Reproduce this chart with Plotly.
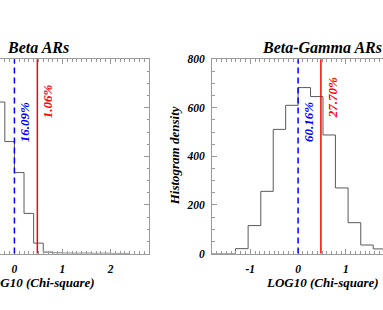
import math
import plotly.graph_objects as go

# ---------------- data ----------------
LEFT_EDGES = [-0.4, -0.2, 0.0, 0.2, 0.4, 0.6, 0.8, 1.0, 1.2, 1.4, 1.6, 1.8, 2.0, 2.2, 2.4]
LEFT_COUNTS = [1559, 1152, 833, 413, 107, 15, 6, 4, 3, 4, 2, 3, 1, 1]

RIGHT_EDGES = [-1.83, -1.31, -1.045, -0.78, -0.52, -0.26, 0.0, 0.26, 0.52, 0.78, 1.045, 1.31, 1.57, 1.83, 2.09]
RIGHT_COUNTS = [0, 20, 115, 256, 511, 610, 683, 646, 488, 270, 127, 35, 19, 8]

BLUE_LINE_X = 0.0               # log10(1)
RED_LINE_X = math.log10(3.0)    # log10(3)

LEFT_TITLE = "Beta ARs"
RIGHT_TITLE = "Beta-Gamma ARs"
LEFT_BLUE_LABEL = "16.09%"
LEFT_RED_LABEL = "1.06%"
RIGHT_BLUE_LABEL = "60.16%"
RIGHT_RED_LABEL = "27.70%"
X_TITLE = "LOG10 (Chi-square)"
Y_TITLE = "Histogram density"

X_TICK_VALS_LEFT = [0, 1, 2]
X_TICK_TEXT_LEFT = ["0", "1", "2"]
X_TICK_VALS_RIGHT = [-1, 0, 1]
X_TICK_TEXT_RIGHT = ["-1", "0", "1"]
Y_TICK_VALS_RIGHT = [0, 200, 400, 600, 800]

# ---------------- layout constants ----------------
W, H = 383, 310
FONT = "Liberation Serif"
AX_COL = "#9a9a9a"
HIST_COL = "#5a5a5a"
BLUE = "#0000ff"
RED = "#ff0000"

def px_x(p):
    return p / W

def px_y(p):
    return 1 - p / H

TOP, BOT = 55.3, 257.5
YDOM = [px_y(BOT), px_y(TOP)]


def step_xy(edges, counts):
    xs = [edges[0]] + list(edges)
    ys = [0] + list(counts) + [0]
    return xs, ys


fig = go.Figure()

lx, ly = step_xy(LEFT_EDGES, LEFT_COUNTS)
fig.add_trace(go.Scatter(x=lx, y=ly, mode="lines", line=dict(color=HIST_COL, width=1, shape="hv"),
                         xaxis="x", yaxis="y", showlegend=False, hoverinfo="skip"))
rx, ry = step_xy(RIGHT_EDGES, RIGHT_COUNTS)
fig.add_trace(go.Scatter(x=rx, y=ry, mode="lines", line=dict(color=HIST_COL, width=1, shape="hv"),
                         xaxis="x2", yaxis="y2", showlegend=False, hoverinfo="skip"))

tickfont = dict(family=FONT, size=11.5, color="black", weight="bold", style="italic")

common_x = dict(showline=True, linecolor=AX_COL, linewidth=1, mirror="ticks",
                ticks="inside", ticklen=5, tickcolor=AX_COL, tickwidth=1,
                tickfont=tickfont, showgrid=False, zeroline=False, tickmode="array",
                minor=dict(ticks="inside", ticklen=2.5, tickcolor=AX_COL, tick0=0, dtick=0.1, showgrid=False),
                ticklabelstandoff=5)

fig.update_layout(
    width=W, height=H, margin=dict(l=0, r=0, t=0, b=0),
    paper_bgcolor="white", plot_bgcolor="white",
    xaxis=dict(domain=[px_x(0), px_x(149)], range=[-0.3, 2.8], anchor="y",
               tickvals=X_TICK_VALS_LEFT, ticktext=X_TICK_TEXT_LEFT, **common_x),
    yaxis=dict(domain=YDOM, range=[0, 2000], side="right", anchor="x",
               showline=True, linecolor=AX_COL, linewidth=1, ticks="inside", ticklen=5,
               tickcolor=AX_COL, showticklabels=False, showgrid=False, zeroline=False,
               tick0=0, dtick=500,
               minor=dict(ticks="inside", ticklen=2.5, tickcolor=AX_COL, tick0=0, dtick=125, showgrid=False)),
    xaxis2=dict(domain=[px_x(212), 1.0], range=[-1.8, 1.775], anchor="y2",
                tickvals=X_TICK_VALS_RIGHT, ticktext=X_TICK_TEXT_RIGHT, **common_x),
    yaxis2=dict(domain=YDOM, range=[0, 800], side="left", anchor="x2",
                showline=True, linecolor=AX_COL, linewidth=1, ticks="inside", ticklen=5,
                tickcolor=AX_COL, tickfont=tickfont, showgrid=False, zeroline=False,
                tickmode="array", tickvals=Y_TICK_VALS_RIGHT, ticklabelstandoff=4,
                minor=dict(ticks="inside", ticklen=2.5, tickcolor=AX_COL, tick0=0, dtick=50, showgrid=False)),
)

# reference lines
for xa, ya in (("x", "y"), ("x2", "y2")):
    fig.add_shape(type="line", xref=xa, yref=f"{ya} domain",
                  x0=BLUE_LINE_X, x1=BLUE_LINE_X, y0=0, y1=1,
                  line=dict(color=BLUE, width=1.5, dash="6px,4px"))
    fig.add_shape(type="line", xref=xa, yref=f"{ya} domain",
                  x0=RED_LINE_X, x1=RED_LINE_X, y0=0, y1=1,
                  line=dict(color=RED, width=1.5))

pct_font = lambda c: dict(family=FONT, size=13, color=c, weight="bold", style="italic")
title_font = dict(family=FONT, size=16, color="black", weight="bold", style="italic")
axt_font = dict(family=FONT, size=13, color="black", weight="bold", style="italic")

def dom_y(p):
    return (BOT - p) / (BOT - TOP)

annos = [
    dict(text=LEFT_BLUE_LABEL, xref="x", yref="y domain", x=BLUE_LINE_X, y=dom_y(143.5),
         xshift=11, textangle=-90, xanchor="center", yanchor="bottom", showarrow=False, font=pct_font(BLUE)),
    dict(text=LEFT_RED_LABEL, xref="x", yref="y domain", x=RED_LINE_X, y=dom_y(118.5),
         xshift=11, textangle=-90, xanchor="center", yanchor="bottom", showarrow=False, font=pct_font(RED)),
    dict(text=RIGHT_BLUE_LABEL, xref="x2", yref="y2 domain", x=BLUE_LINE_X, y=dom_y(143.5),
         xshift=11, textangle=-90, xanchor="center", yanchor="bottom", showarrow=False, font=pct_font(BLUE)),
    dict(text=RIGHT_RED_LABEL, xref="x2", yref="y2 domain", x=RED_LINE_X, y=dom_y(118.5),
         xshift=11, textangle=-90, xanchor="center", yanchor="bottom", showarrow=False, font=pct_font(RED)),
    dict(text=LEFT_TITLE, xref="x", yref="paper", x=0.5, y=px_y(43), xanchor="center", yanchor="middle",
         showarrow=False, font=title_font),
    dict(text=RIGHT_TITLE, xref="x2", yref="paper", x=0.5, y=px_y(43), xanchor="center", yanchor="middle",
         showarrow=False, font=title_font),
    dict(text=X_TITLE, xref="x", yref="paper", x=0.5, y=px_y(288), xanchor="center", yanchor="middle",
         showarrow=False, font=axt_font),
    dict(text=X_TITLE, xref="x2", yref="paper", x=0.5, y=px_y(288), xanchor="center", yanchor="middle",
         showarrow=False, font=axt_font),
    dict(text=Y_TITLE, xref="paper", yref="paper", x=px_x(174), y=px_y((TOP + BOT) / 2),
         xanchor="center", yanchor="middle", textangle=-90, showarrow=False, font=axt_font),
]
fig.update_layout(annotations=annos)

fig.write_html("out.html", config={"displayModeBar": False},
               post_script="document.body.style.margin='0px';document.body.style.overflow='hidden';")
